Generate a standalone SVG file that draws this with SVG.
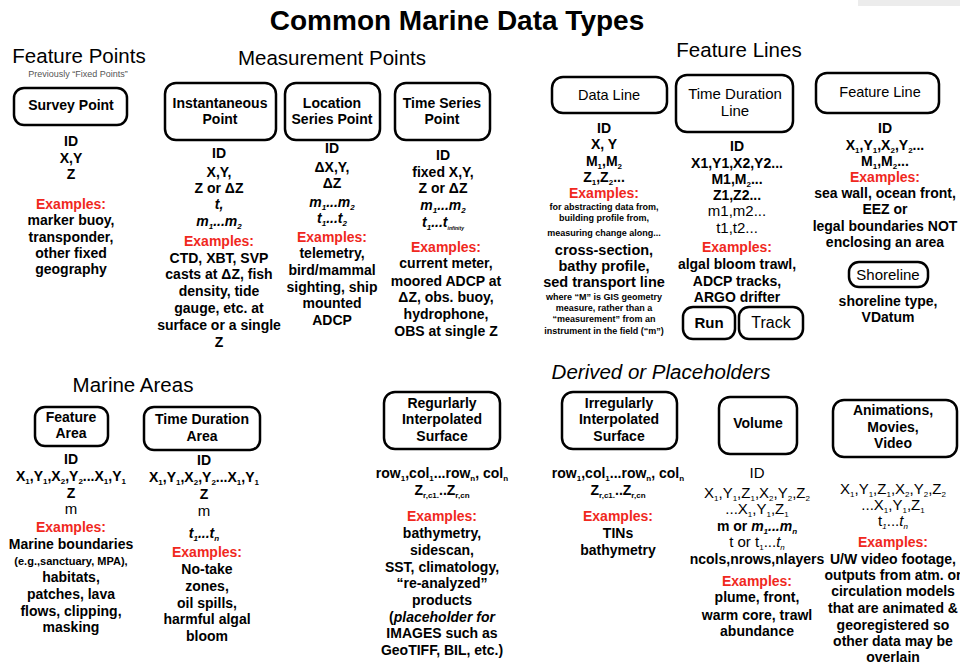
<svg xmlns="http://www.w3.org/2000/svg" width="960" height="665" viewBox="0 0 960 665">
<style>
text{font-family:"Liberation Sans",Arial,sans-serif;text-anchor:middle;fill:#000}
.title{font-size:28px;font-weight:bold}
.h{font-size:20.5px}
.hi{font-size:20.5px;font-style:italic}
.note{font-size:9px;fill:#555}
.b{font-size:14px;font-weight:bold}
.r{font-size:15px}
.ln{font-size:14.5px}
.ex{font-size:14px;font-weight:bold;fill:#f0281e}
.sm{font-size:9px;font-weight:bold}
.md{font-size:11px;font-weight:bold}
.i{font-style:italic}
.s{font-size:8px;baseline-shift:-2.5px}
.box{fill:#fff;stroke:#000;stroke-width:2.5}
</style>
<rect x="858" y="0" width="102" height="6" fill="#ececec"/>
<text class="title" x="457" y="30">Common Marine Data Types</text>
<text class="h" x="79" y="63">Feature Points</text>
<text class="note" x="78" y="77">Previously “Fixed Points”</text>
<text class="h" x="332" y="65">Measurement Points</text>
<text class="h" x="739" y="57">Feature Lines</text>
<text class="h" x="133" y="392">Marine Areas</text>
<text class="hi" x="661" y="379">Derived or Placeholders</text>

<g id="survey-point">
<rect class="box" x="14" y="88" width="113" height="37" rx="10"/>
<text class="b" x="71" y="110">Survey Point</text>
<text class="b" x="71" y="146">ID</text>
<text class="b" x="71" y="163">X,Y</text>
<text class="b" x="71" y="179">Z</text>
<text class="ex" x="71" y="209">Examples:</text>
<text class="b" x="71" y="225">marker buoy,</text>
<text class="b" x="71" y="242">transponder,</text>
<text class="b" x="71" y="258">other fixed</text>
<text class="b" x="71" y="274">geography</text>
</g>

<g id="instantaneous-point">
<rect class="box" x="165" y="83" width="111" height="57" rx="11"/>
<text class="b" x="220" y="108">Instantaneous</text>
<text class="b" x="220" y="124">Point</text>
<text class="b" x="219" y="158">ID</text>
<text class="b" x="219" y="177">X,Y,</text>
<text class="b" x="219" y="193">Z or ΔZ</text>
<text class="b i" x="219" y="209">t,</text>
<text class="b i" x="219" y="226">m<tspan class="s">1</tspan>...m<tspan class="s">2</tspan></text>
<text class="ex" x="219" y="246">Examples:</text>
<text class="b" x="219" y="263">CTD, XBT, SVP</text>
<text class="b" x="219" y="279">casts at ΔZ, fish</text>
<text class="b" x="219" y="296">density, tide</text>
<text class="b" x="219" y="313">gauge, etc. at</text>
<text class="b" x="219" y="330">surface or a single</text>
<text class="b" x="219" y="347">Z</text>
</g>

<g id="location-series-point">
<rect class="box" x="285" y="83" width="95" height="57" rx="11"/>
<text class="b" x="332" y="108">Location</text>
<text class="b" x="332" y="124">Series Point</text>
<text class="b" x="332" y="153">ID</text>
<text class="b" x="332" y="172">ΔX,Y,</text>
<text class="b" x="332" y="188">ΔZ</text>
<text class="b i" x="332" y="207">m<tspan class="s">1</tspan>...m<tspan class="s">2</tspan></text>
<text class="b i" x="332" y="223">t<tspan class="s">1</tspan>...t<tspan class="s">2</tspan></text>
<text class="ex" x="332" y="242">Examples:</text>
<text class="b" x="332" y="258">telemetry,</text>
<text class="b" x="332" y="275">bird/mammal</text>
<text class="b" x="332" y="292">sighting, ship</text>
<text class="b" x="332" y="308">mounted</text>
<text class="b" x="332" y="325">ADCP</text>
</g>

<g id="time-series-point">
<rect class="box" x="395" y="83" width="95" height="57" rx="11"/>
<text class="b" x="442" y="108">Time Series</text>
<text class="b" x="442" y="124">Point</text>
<text class="b" x="443" y="160">ID</text>
<text class="b" x="443" y="177">fixed X,Y,</text>
<text class="b" x="443" y="193">Z or ΔZ</text>
<text class="b i" x="443" y="210">m<tspan class="s">1</tspan>...m<tspan class="s">2</tspan></text>
<text class="b i" x="443" y="227">t<tspan class="s">1</tspan>...t<tspan class="s" style="font-size:5px">infinity</tspan></text>
<text class="ex" x="446" y="252">Examples:</text>
<text class="b" x="446" y="268">current meter,</text>
<text class="b" x="446" y="286">moored ADCP at</text>
<text class="b" x="446" y="302">ΔZ, obs. buoy,</text>
<text class="b" x="446" y="319">hydrophone,</text>
<text class="b" x="446" y="336">OBS at single Z</text>
</g>

<g id="data-line">
<rect class="box" x="552" y="77" width="115" height="36" rx="11"/>
<text class="ln" x="609" y="100">Data Line</text>
<text class="b" x="604" y="133">ID</text>
<text class="b" x="604" y="149">X, Y</text>
<text class="b" x="604" y="166">M<tspan class="s">1</tspan>,M<tspan class="s">2</tspan></text>
<text class="b" x="604" y="182">Z<tspan class="s">1</tspan>,Z<tspan class="s">2</tspan>...</text>
<text class="ex" x="604" y="198">Examples:</text>
<text class="sm" x="604" y="210">for abstracting data from,</text>
<text class="sm" x="604" y="221">building profile from,</text>
<text class="sm" x="604" y="236">measuring change along...</text>
<text class="b" x="604" y="255" style="font-size:14.5px">cross-section,</text>
<text class="b" x="604" y="271" style="font-size:14.5px">bathy profile,</text>
<text class="b" x="604" y="287" style="font-size:14.5px">sed transport line</text>
<text class="sm" x="604" y="300">where “M” is GIS geometry</text>
<text class="sm" x="604" y="311">measure, rather than a</text>
<text class="sm" x="604" y="322">“measurement” from an</text>
<text class="sm" x="604" y="334">instrument in the field (“m”)</text>
</g>

<g id="time-duration-line">
<rect class="box" x="676" y="75" width="117" height="57" rx="11"/>
<text class="r" x="735" y="99">Time Duration</text>
<text class="r" x="735" y="116">Line</text>
<text class="b" x="737" y="151">ID</text>
<text class="b" x="737" y="168">X1,Y1,X2,Y2...</text>
<text class="b" x="737" y="184">M1,M<tspan class="s">2</tspan>...</text>
<text class="b" x="737" y="200">Z1,Z2...</text>
<text class="r" x="737" y="216">m1,m2...</text>
<text class="r" x="737" y="233">t1,t2...</text>
<text class="ex" x="737" y="252">Examples:</text>
<text class="b" x="737" y="269">algal bloom trawl,</text>
<text class="b" x="737" y="286">ADCP tracks,</text>
<text class="b" x="737" y="302">ARGO drifter</text>
</g>

<g id="run">
<rect class="box" x="683" y="307" width="52" height="32" rx="10"/>
<text class="b" x="709" y="328" style="font-size:15px">Run</text>
</g>

<g id="track">
<rect class="box" x="739" y="307" width="64" height="32" rx="10"/>
<text class="r" x="771" y="328" style="font-size:16px">Track</text>
</g>

<g id="feature-line">
<rect class="box" x="816" y="73" width="123" height="40" rx="11"/>
<text class="ln" x="880" y="97">Feature Line</text>
<text class="b" x="885" y="133">ID</text>
<text class="b" x="885" y="150">X<tspan class="s">1</tspan>,Y<tspan class="s">1</tspan>,X<tspan class="s">2</tspan>,Y<tspan class="s">2</tspan>...</text>
<text class="b" x="885" y="166">M<tspan class="s">1</tspan>,M<tspan class="s">2</tspan>...</text>
<text class="ex" x="885" y="182">Examples:</text>
<text class="b" x="885" y="198">sea wall, ocean front,</text>
<text class="b" x="885" y="214">EEZ or</text>
<text class="b" x="885" y="231">legal boundaries NOT</text>
<text class="b" x="885" y="247">enclosing an area</text>
</g>

<g id="shoreline">
<rect class="box" x="849" y="262" width="79" height="25" rx="10"/>
<text class="r" x="888" y="280">Shoreline</text>
<text class="b" x="888" y="306">shoreline type,</text>
<text class="b" x="888" y="322">VDatum</text>
</g>

<g id="feature-area">
<rect class="box" x="35" y="407" width="73" height="39" rx="10"/>
<text class="b" x="71" y="422">Feature</text>
<text class="b" x="71" y="438">Area</text>
<text class="b" x="71" y="464">ID</text>
<text class="b" x="71" y="481">X<tspan class="s">1</tspan>,Y<tspan class="s">1</tspan>,X<tspan class="s">2</tspan>,Y<tspan class="s">2</tspan>...X<tspan class="s">1</tspan>,Y<tspan class="s">1</tspan></text>
<text class="b" x="71" y="498">Z</text>
<text class="r" x="71" y="514">m</text>
<text class="ex" x="71" y="532">Examples:</text>
<text class="b" x="71" y="549">Marine boundaries</text>
<text class="md" x="71" y="565">(e.g.,sanctuary, MPA),</text>
<text class="b" x="71" y="582">habitats,</text>
<text class="b" x="71" y="599">patches, lava</text>
<text class="b" x="71" y="616">flows, clipping,</text>
<text class="b" x="71" y="632">masking</text>
</g>

<g id="time-duration-area">
<rect class="box" x="144" y="407" width="116" height="43" rx="10"/>
<text class="b" x="202" y="424">Time Duration</text>
<text class="b" x="202" y="441">Area</text>
<text class="b" x="204" y="465">ID</text>
<text class="b" x="204" y="482">X<tspan class="s">1</tspan>,Y<tspan class="s">1</tspan>,X<tspan class="s">2</tspan>,Y<tspan class="s">2</tspan>...X<tspan class="s">1</tspan>,Y<tspan class="s">1</tspan></text>
<text class="b" x="204" y="499">Z</text>
<text class="r" x="204" y="516">m</text>
<text class="b i" x="204" y="538">t<tspan class="s">1</tspan>...t<tspan class="s">n</tspan></text>
<text class="ex" x="207" y="557">Examples:</text>
<text class="b" x="207" y="574">No-take</text>
<text class="b" x="207" y="591">zones,</text>
<text class="b" x="207" y="608">oil spills,</text>
<text class="b" x="207" y="624">harmful algal</text>
<text class="b" x="207" y="641">bloom</text>
</g>

<g id="regularly-interpolated-surface">
<rect class="box" x="384" y="392" width="116" height="57" rx="11"/>
<text class="b" x="442" y="408">Regurlarly</text>
<text class="b" x="442" y="424">Interpolated</text>
<text class="b" x="442" y="441">Surface</text>
<text class="b" x="442" y="478">row<tspan class="s">1</tspan>,col<tspan class="s">1</tspan>...row<tspan class="s">n</tspan>, col<tspan class="s">n</tspan></text>
<text class="b" x="442" y="495">Z<tspan class="s">r,c1.</tspan>..Z<tspan class="s">r,cn</tspan></text>
<text class="ex" x="442" y="521">Examples:</text>
<text class="b" x="442" y="538">bathymetry,</text>
<text class="b" x="442" y="555">sidescan,</text>
<text class="b" x="442" y="572">SST, climatology,</text>
<text class="b" x="442" y="588">“re-analyzed”</text>
<text class="b" x="442" y="605">products</text>
<text class="b" x="442" y="622">(<tspan class="i">placeholder for</tspan></text>
<text class="b" x="442" y="638">IMAGES such as</text>
<text class="b" x="442" y="655">GeoTIFF, BIL, etc.)</text>
</g>

<g id="irregularly-interpolated-surface">
<rect class="box" x="562" y="392" width="115" height="57" rx="11"/>
<text class="b" x="619" y="408">Irregularly</text>
<text class="b" x="619" y="424">Interpolated</text>
<text class="b" x="619" y="441">Surface</text>
<text class="b" x="618" y="478">row<tspan class="s">1</tspan>,col<tspan class="s">1</tspan>...row<tspan class="s">n</tspan>, col<tspan class="s">n</tspan></text>
<text class="b" x="618" y="495">Z<tspan class="s">r,c1.</tspan>..Z<tspan class="s">r,cn</tspan></text>
<text class="ex" x="618" y="521">Examples:</text>
<text class="b" x="618" y="538">TINs</text>
<text class="b" x="618" y="555">bathymetry</text>
</g>

<g id="volume">
<rect class="box" x="719" y="397" width="78" height="57" rx="11"/>
<text class="b" x="758" y="428">Volume</text>
<text class="r" x="757" y="478">ID</text>
<text class="r" x="757" y="498">X<tspan class="s">1</tspan>,Y<tspan class="s">1</tspan>,Z<tspan class="s">1</tspan>,X<tspan class="s">2</tspan>,Y<tspan class="s">2</tspan>,Z<tspan class="s">2</tspan></text>
<text class="r" x="757" y="514">...X<tspan class="s">1</tspan>,Y<tspan class="s">1</tspan>,Z<tspan class="s">1</tspan></text>
<text class="b" x="757" y="531">m or <tspan class="i">m<tspan class="s">1</tspan>...m<tspan class="s">n</tspan></tspan></text>
<text class="r" x="757" y="547">t or t<tspan class="s">1</tspan>...<tspan class="i">t<tspan class="s">n</tspan></tspan></text>
<text class="b" x="757" y="564">ncols,nrows,nlayers</text>
<text class="ex" x="757" y="586">Examples:</text>
<text class="b" x="757" y="602">plume, front,</text>
<text class="b" x="757" y="620">warm core, trawl</text>
<text class="b" x="757" y="636">abundance</text>
</g>

<g id="animations-movies-video">
<rect class="box" x="833" y="400" width="124" height="57" rx="11"/>
<text class="b" x="893" y="415">Animations,</text>
<text class="b" x="893" y="432">Movies,</text>
<text class="b" x="893" y="448">Video</text>
<text class="r" x="893" y="494">X<tspan class="s">1</tspan>,Y<tspan class="s">1</tspan>,Z<tspan class="s">1</tspan>,X<tspan class="s">2</tspan>,Y<tspan class="s">2</tspan>,Z<tspan class="s">2</tspan></text>
<text class="r" x="893" y="510">...X<tspan class="s">1</tspan>,Y<tspan class="s">1</tspan>,Z<tspan class="s">1</tspan></text>
<text class="r" x="893" y="526">t<tspan class="s i">1</tspan>...<tspan class="i">t<tspan class="s">n</tspan></tspan></text>
<text class="ex" x="893" y="547">Examples:</text>
<text class="b" x="893" y="564">U/W video footage,</text>
<text class="b" x="893" y="580">outputs from atm. or</text>
<text class="b" x="893" y="596">circulation models</text>
<text class="b" x="893" y="613">that are animated &amp;</text>
<text class="b" x="893" y="630">georegistered so</text>
<text class="b" x="893" y="646">other data may be</text>
<text class="b" x="893" y="662">overlain</text>
</g>

<g id="connectors"/>
</svg>
